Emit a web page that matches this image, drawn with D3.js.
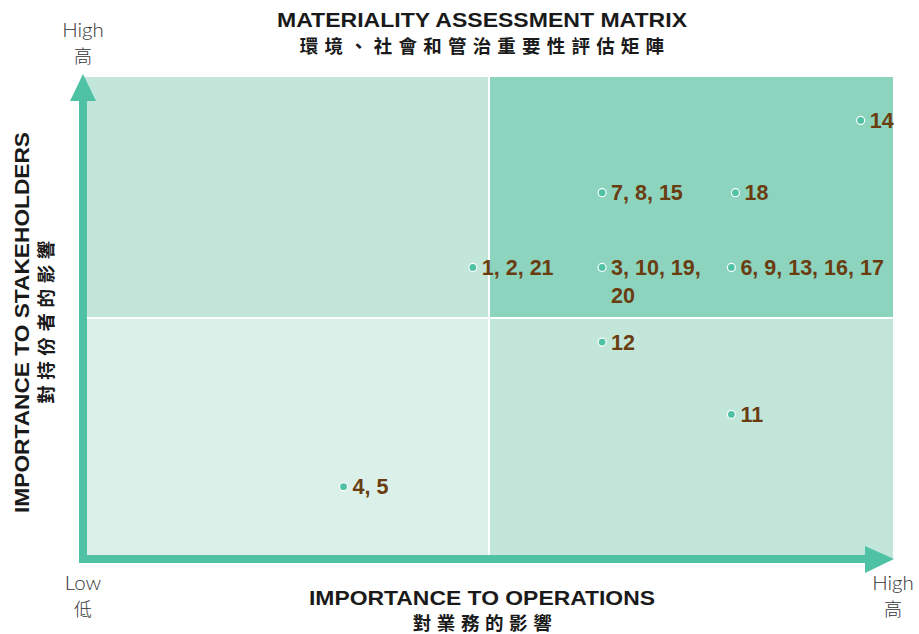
<!DOCTYPE html>
<html>
<head>
<meta charset="utf-8">
<script src="https://cdn.jsdelivr.net/npm/d3@7"></script>
<style>
  body { margin: 0; background: #fff; }
  svg { display: block; }
</style>
</head>
<body>
<div id="chart"></div>
<script>
// Data
const topicLabels = ["14", "7, 8, 15", "18", "1, 2, 21", "3, 10, 19,\n20", "6, 9, 13, 16, 17", "12", "11", "4, 5"];
const operations = [9.6, 6.4, 8.05, 4.8, 6.4, 8.0, 6.4, 8.0, 3.2];
const stakeholders = [9.1, 7.6, 7.6, 6.05, 6.05, 6.05, 4.5, 3.0, 1.5];
const quadrants = [
    { x0: 0, x1: 5, y0: 5, y1: 10, fill: "#c2e6da" },
    { x0: 5, x1: 10, y0: 5, y1: 10, fill: "#8cd4be" },
    { x0: 0, x1: 5, y0: 0, y1: 5, fill: "#dbf0e8" },
    { x0: 5, x1: 10, y0: 0, y1: 5, fill: "#c2e6da" }
];

const width = 919, height = 634;
const accent = "#4fc1a4";
const cjk = "'Noto Sans CJK TC', 'Noto Sans CJK SC', sans-serif";
const latin = "'Liberation Sans', Arial, sans-serif";

const svg = d3.select("#chart").append("svg")
    .attr("width", width)
    .attr("height", height);

const x = d3.scaleLinear().domain([0, 10]).range([85, 893]);
const y = d3.scaleLinear().domain([0, 10]).range([559, 77]);

// Quadrants
svg.selectAll("rect.quad")
    .data(quadrants)
    .join("rect")
    .attr("class", "quad")
    .attr("x", d => x(d.x0))
    .attr("y", d => y(d.y1))
    .attr("width", d => x(d.x1) - x(d.x0))
    .attr("height", d => y(d.y0) - y(d.y1))
    .attr("fill", d => d.fill);

// White dividers
svg.append("line")
    .attr("x1", x(5)).attr("x2", x(5))
    .attr("y1", y(10)).attr("y2", y(0))
    .attr("stroke", "#fff").attr("stroke-width", 2);
svg.append("line")
    .attr("x1", x(0)).attr("x2", x(10))
    .attr("y1", y(5)).attr("y2", y(5))
    .attr("stroke", "#fff").attr("stroke-width", 2);

// Axis arrows
const ax = x(0) - 2, ay = y(0);
svg.append("rect")
    .attr("x", ax - 4).attr("y", y(10) + 23)
    .attr("width", 8).attr("height", ay + 4 - (y(10) + 23))
    .attr("fill", accent);
svg.append("path")
    .attr("d", `M${ax - 13},${y(10) + 24} L${ax},${y(10) - 3} L${ax + 13},${y(10) + 24} Z`)
    .attr("fill", accent);
svg.append("rect")
    .attr("x", ax - 4).attr("y", ay - 4)
    .attr("width", x(10) - 27 - (ax - 4)).attr("height", 8)
    .attr("fill", accent);
svg.append("path")
    .attr("d", `M${x(10) - 28},${ay - 13} L${x(10) + 1},${ay} L${x(10) - 28},${ay + 14} Z`)
    .attr("fill", accent);

// Points
const pts = topicLabels.map((label, i) => ({ label, ox: operations[i], sy: stakeholders[i] }));

svg.selectAll("circle.pt")
    .data(pts)
    .join("circle")
    .attr("class", "pt")
    .attr("cx", d => x(d.ox))
    .attr("cy", d => y(d.sy))
    .attr("r", 4)
    .attr("fill", accent)
    .attr("stroke", "#fff")
    .attr("stroke-width", 1.2);

const lbl = svg.selectAll("text.lbl")
    .data(pts)
    .join("text")
    .attr("class", "lbl")
    .attr("x", d => x(d.ox) + 9)
    .attr("y", d => y(d.sy) + 7.5)
    .attr("font-family", latin)
    .attr("font-weight", "bold")
    .attr("font-size", 21.5)
    .attr("fill", "#6a3d10");
lbl.selectAll("tspan")
    .data(d => d.label.split("\n").map((t, i) => ({ t, i, x: x(d.ox) + 9 })))
    .join("tspan")
    .attr("x", d => d.x)
    .attr("dy", d => d.i ? 28 : 0)
    .text(d => d.t);

// Title
const cx = 482;
svg.append("text")
    .attr("x", cx).attr("y", 27)
    .attr("text-anchor", "middle")
    .attr("font-family", latin).attr("font-weight", "bold").attr("font-size", 21)
    .attr("textLength", 410).attr("lengthAdjust", "spacingAndGlyphs")
    .attr("fill", "#1a1a1a")
    .text("MATERIALITY ASSESSMENT MATRIX");
svg.append("text")
    .attr("x", cx + 3).attr("y", 53)
    .attr("text-anchor", "middle")
    .attr("font-family", cjk).attr("font-weight", "bold").attr("font-size", 18.5)
    .attr("letter-spacing", 6.2)
    .attr("fill", "#1a1a1a")
    .text("環境、社會和管治重要性評估矩陣");

// X axis title
svg.append("text")
    .attr("x", cx).attr("y", 605)
    .attr("text-anchor", "middle")
    .attr("font-family", latin).attr("font-weight", "bold").attr("font-size", 21)
    .attr("textLength", 346).attr("lengthAdjust", "spacingAndGlyphs")
    .attr("fill", "#1a1a1a")
    .text("IMPORTANCE TO OPERATIONS");
svg.append("text")
    .attr("x", cx + 3).attr("y", 630)
    .attr("text-anchor", "middle")
    .attr("font-family", cjk).attr("font-weight", "bold").attr("font-size", 18.5)
    .attr("letter-spacing", 5.6)
    .attr("fill", "#1a1a1a")
    .text("對業務的影響");

// Y axis title
const yt = svg.append("g").attr("transform", "translate(0,322.5) rotate(-90)");
yt.append("text")
    .attr("x", 0).attr("y", 29)
    .attr("text-anchor", "middle")
    .attr("font-family", latin).attr("font-weight", "bold").attr("font-size", 21)
    .attr("textLength", 381).attr("lengthAdjust", "spacingAndGlyphs")
    .attr("fill", "#1a1a1a")
    .text("IMPORTANCE TO STAKEHOLDERS");
yt.append("text")
    .attr("x", 3).attr("y", 53)
    .attr("text-anchor", "middle")
    .attr("font-family", cjk).attr("font-weight", "bold").attr("font-size", 18.5)
    .attr("letter-spacing", 5.6)
    .attr("fill", "#1a1a1a")
    .text("對持份者的影響");

// High / Low markers
const marks = [
    { x: 83, y: 37, t: ["High", "高"] },
    { x: 83, y: 590, t: ["Low", "低"] },
    { x: 893, y: 590, t: ["High", "高"] }
];
marks.forEach(m => {
    svg.append("text")
        .attr("x", m.x).attr("y", m.y)
        .attr("text-anchor", "middle")
        .attr("font-family", "Lato, 'Open Sans', sans-serif").attr("font-weight", 300)
        .attr("font-size", 20.5).attr("fill", "#333")
        .text(m.t[0]);
    svg.append("text")
        .attr("x", m.x).attr("y", m.y + 26)
        .attr("text-anchor", "middle")
        .attr("font-family", cjk).attr("font-weight", 300)
        .attr("font-size", 18).attr("fill", "#333")
        .text(m.t[1]);
});
</script>
</body>
</html>
